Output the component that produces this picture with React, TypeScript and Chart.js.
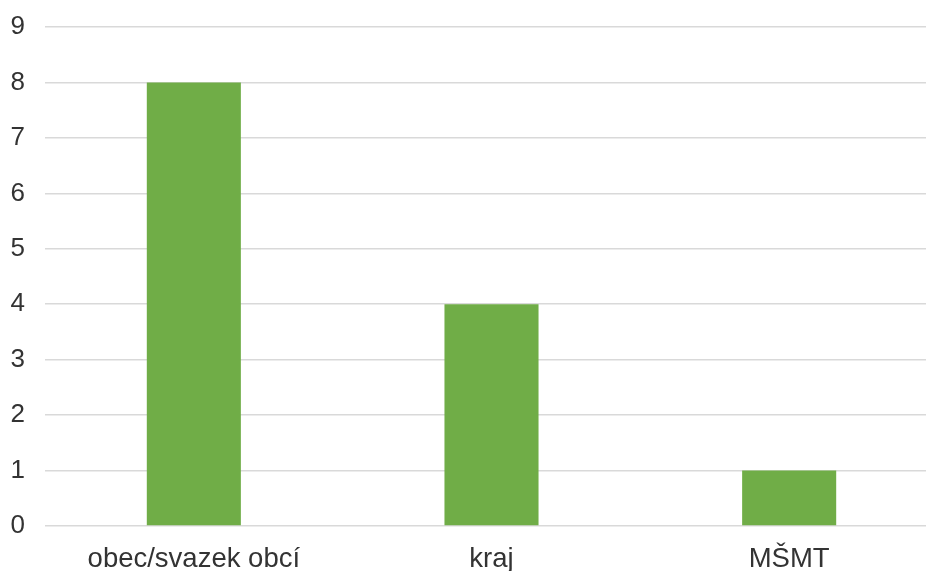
import React, { useEffect, useRef } from "react";
import { Chart, registerables } from "chart.js";

Chart.register(...registerables);

const categories: string[] = ["obec/svazek obcí", "kraj", "MŠMT"];
const values: number[] = [8, 4, 1];
const yMin = 0;
const yMax = 9;
const yStep = 1;

export default function App() {
  const ref = useRef<HTMLCanvasElement | null>(null);

  useEffect(() => {
    if (!ref.current) return;
    const chart = new Chart(ref.current, {
      type: "bar",
      data: {
        labels: categories,
        datasets: [
          {
            data: values,
            backgroundColor: "#70AD47",
            borderWidth: 0,
            categoryPercentage: 1,
            barPercentage: 0.316,
          },
        ],
      },
      options: {
        responsive: false,
        animation: false,
        devicePixelRatio: 1,
        layout: { padding: { top: 27, left: 0, right: 0, bottom: 0 } },
        plugins: {
          legend: { display: false },
          tooltip: { enabled: false },
        },
        scales: {
          x: {
            grid: { display: false, drawTicks: false },
            border: { display: false },
            ticks: {
              color: "#333333",
              font: { family: "Liberation Sans, Arial, sans-serif", size: 27.5 },
              padding: 17,
              maxRotation: 0,
              autoSkip: false,
            },
            afterFit: (s: any) => {
              s.height = 45;
              s.paddingLeft = 0;
              s.paddingRight = 0;
            },
          },
          y: {
            min: yMin,
            max: yMax,
            grid: { color: "#d9d9d9", lineWidth: 1.5, drawTicks: false },
            border: { display: false },
            ticks: {
              stepSize: yStep,
              color: "#333333",
              font: { family: "Liberation Sans, Arial, sans-serif", size: 26 },
              padding: 20,
            },
            afterFit: (s: any) => {
              s.width = 45;
              s.paddingTop = 0;
              s.paddingBottom = 0;
            },
          },
        },
      },
    });
    return () => chart.destroy();
  }, []);

  return (
    <div
      style={{
        position: "absolute",
        top: 0,
        left: 0,
        width: 926,
        height: 571,
        overflow: "hidden",
        background: "#ffffff",
      }}
    >
      <canvas
        ref={ref}
        width={938}
        height={571}
        style={{ width: 938, height: 571, display: "block" }}
      />
    </div>
  );
}
